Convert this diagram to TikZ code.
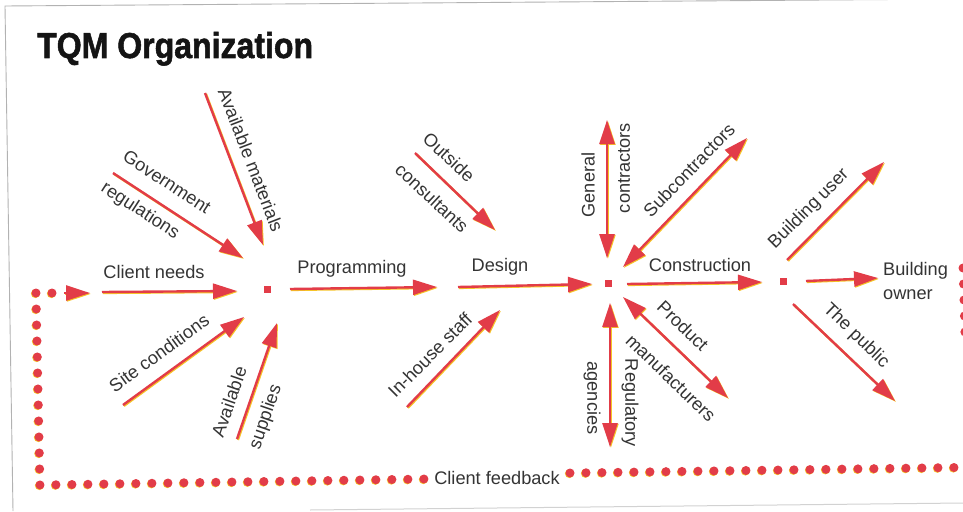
\documentclass[tikz,border=0pt]{standalone}
\usepackage{fontspec}
\usepackage{graphicx}
\setmainfont{Liberation Sans}
\newfontfamily\titlefont{Liberation Sans}[BoldFeatures={FakeBold=1.6}]
\usetikzlibrary{arrows.meta}
\definecolor{ared}{RGB}{226,60,72}
\definecolor{ayel}{RGB}{246,196,40}
\definecolor{txt}{RGB}{52,52,52}
\newcommand{\tqmarr}[3]{%
  \draw[arrshadow,#1] (#2) -- (#3);
  \draw[arrmain,#1] (#2) -- (#3);}
\begin{document}
\begin{tikzpicture}[x=1pt,y=-1pt,
  lbl/.style={text=txt, font=\fontsize{18.2}{22}\selectfont, inner sep=0pt},
  arrmain/.style={draw=ared, fill=ared, line width=2.4pt},
  arrshadow/.style={draw=ayel, fill=ayel, line width=2.4pt, transform canvas={shift={(0.9pt,-0.9pt)}}},
  onetip/.style={-{Triangle[length=24pt,width=15pt]}},
  twotip/.style={{Triangle[length=24pt,width=15pt]}-{Triangle[length=24pt,width=15pt]}},
  hub/.style={fill=ared, minimum size=7pt, inner sep=0pt},
  dots/.style={draw=ared, line width=9pt, line cap=round, dash pattern=on 0pt off 16pt},
  dotshadow/.style={draw=ayel, line width=9pt, line cap=round, dash pattern=on 0pt off 16pt, transform canvas={shift={(-0.6pt,-0.6pt)}}},
  frameline/.style={draw=gray!60, line width=0.9pt},
]
\useasboundingbox[fill=white] (0,0) rectangle (963,511);

% frame of the scanned page
\draw[frameline] (13,511) -- (5,6) -- (963,-1);
\draw[draw=gray!35, line width=1pt] (310,510) -- (963,503);

% title
\node[anchor=base west, inner sep=0pt, text=black!92, font=\fontsize{36}{36}\titlefont\bfseries] (title) at (37,58) {\scalebox{0.89}[1]{TQM Organization}};

% hubs
\node[hub] (h1) at (267,289) {};
\node[hub] (h2) at (608,283) {};
\node[hub] (h3) at (783,281) {};

% arrow end points
\coordinate (cnA) at (102,292); \coordinate (cnB) at (237,291);
\coordinate (grA) at (113,173); \coordinate (grB) at (243,258);
\coordinate (amA) at (205,93);  \coordinate (amB) at (263,245);
\coordinate (scA) at (123,405); \coordinate (scB) at (244,317);
\coordinate (asA) at (237,439); \coordinate (asB) at (277,323);
\coordinate (prA) at (290,289); \coordinate (prB) at (437,287);
\coordinate (ocA) at (415,153); \coordinate (ocB) at (495,230);
\coordinate (ihA) at (407,407); \coordinate (ihB) at (500,310);
\coordinate (deA) at (458,287); \coordinate (deB) at (592,284);
\coordinate (gcA) at (607,120); \coordinate (gcB) at (607,258);
\coordinate (suA) at (747,138); \coordinate (suB) at (623,267);
\coordinate (coA) at (627,284); \coordinate (coB) at (762,282);
\coordinate (pmA) at (623,297); \coordinate (pmB) at (728,398);
\coordinate (raA) at (610,303); \coordinate (raB) at (610,447);
\coordinate (buA) at (787,260); \coordinate (buB) at (884,162);
\coordinate (boA) at (806,281); \coordinate (boB) at (878,278);
\coordinate (tpA) at (793,304); \coordinate (tpB) at (895,401);

% feedback loop
\coordinate (fb0) at (52,293);
\coordinate (fb1) at (36,293);
\coordinate (fb2) at (40,485);
\coordinate (fb3) at (424,479);
\coordinate (fb4) at (570,473);
\coordinate (fb5) at (954,467.5);
\coordinate (fb6) at (963,268);
\coordinate (fb7) at (965,336);
\coordinate (fbtA) at (64,293);
\coordinate (fbtB) at (90,293);
\draw[dotshadow] (fb0) -- (fb1) -- (fb2) -- (fb3);
\draw[dots] (fb0) -- (fb1) -- (fb2) -- (fb3);
\draw[dotshadow] (fb4) -- (fb5);
\draw[dots] (fb4) -- (fb5);
\draw[dots] (fb6) -- (fb7);
\tqmarr{onetip}{fbtA}{fbtB}

% arrows
\tqmarr{onetip}{cnA}{cnB}
\tqmarr{onetip}{grA}{grB}
\tqmarr{onetip}{amA}{amB}
\tqmarr{onetip}{scA}{scB}
\tqmarr{onetip}{asA}{asB}
\tqmarr{onetip}{prA}{prB}
\tqmarr{onetip}{ocA}{ocB}
\tqmarr{onetip}{ihA}{ihB}
\tqmarr{onetip}{deA}{deB}
\tqmarr{twotip}{gcA}{gcB}
\tqmarr{twotip}{suA}{suB}
\tqmarr{onetip}{coA}{coB}
\tqmarr{twotip}{pmA}{pmB}
\tqmarr{twotip}{raA}{raB}
\tqmarr{onetip}{buA}{buB}
\tqmarr{onetip}{boA}{boB}
\tqmarr{onetip}{tpA}{tpB}

% labels
\node[lbl, rotate=-33] (gov1) at (167,182) {Government};
\node[lbl, rotate=-33] (gov2) at (140,211) {regulations};
\node[lbl, rotate=-69] (avm) at (251,160) {Available materials};
\node[lbl] (cn) at (154,272) {Client needs};
\node[lbl, rotate=36] (sc) at (159,353) {Site conditions};
\node[lbl, rotate=71] (as1) at (229,402) {Available};
\node[lbl, rotate=71] (as2) at (266,417) {supplies};
\node[lbl] (prog) at (352,269) {Programming};
\node[lbl] (des) at (500,267) {Design};
\node[lbl, rotate=-43] (oc1) at (449,157) {Outside};
\node[lbl, rotate=-43] (oc2) at (432,198) {consultants};
\node[lbl, rotate=45] (ih) at (430,355) {In-house staff};
\node[lbl, rotate=90] (gc1) at (588,185) {General};
\node[lbl, rotate=90] (gc2) at (624,168) {contractors};
\node[lbl, rotate=46] (sub) at (689,170) {Subcontractors};
\node[lbl] (con) at (700,265) {Construction};
\node[lbl, rotate=-44] (pm1) at (683,326) {Product};
\node[lbl, rotate=-44] (pm2) at (671,378) {manufacturers};
\node[lbl, rotate=-90] (ra2) at (592,398) {agencies};
\node[lbl, rotate=-90] (ra1) at (630,403) {Regulatory};
\node[lbl, rotate=45] (bu) at (809,209) {Building user};
\node[lbl, anchor=base west] (bo1) at (883,275) {Building};
\node[lbl, anchor=base west] (bo2) at (883,299) {owner};
\node[lbl, rotate=-44] (pub) at (856,336) {The public};
\node[lbl] (cf) at (497,478) {Client feedback};
\end{tikzpicture}
\end{document}
